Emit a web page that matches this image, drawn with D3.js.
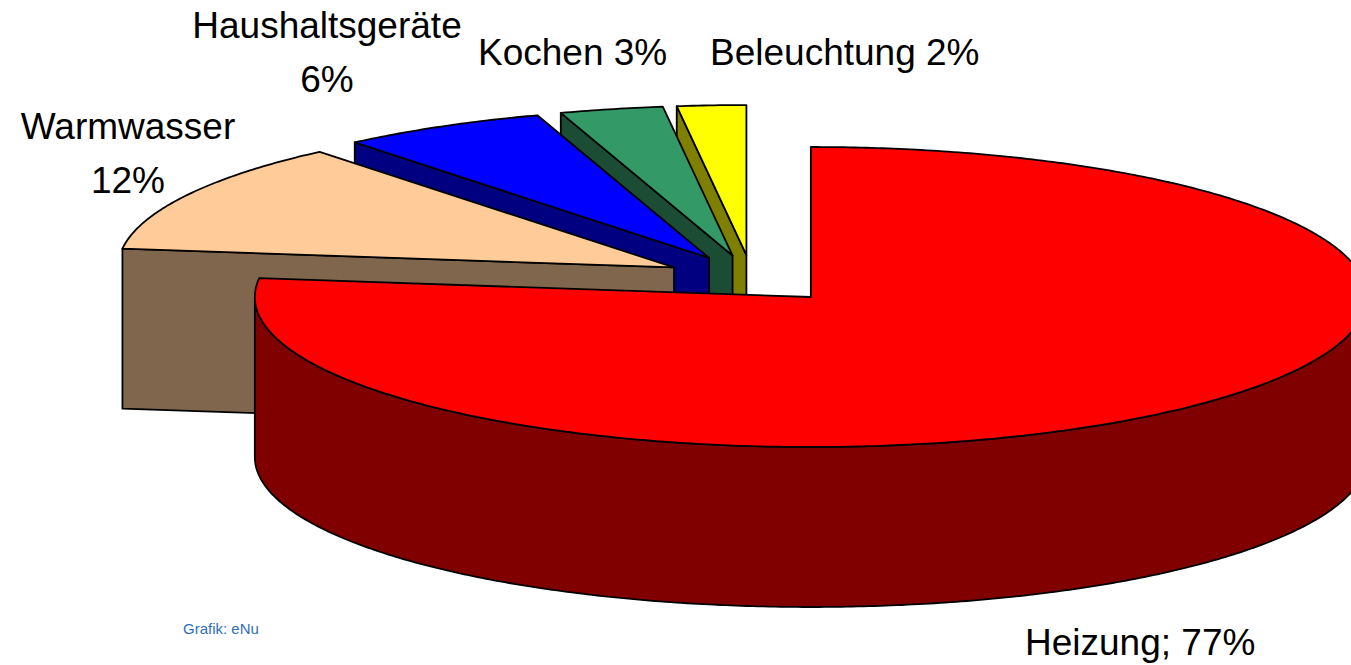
<!DOCTYPE html>
<html>
<head>
<meta charset="utf-8">
<script src="https://cdn.jsdelivr.net/npm/d3@7"></script>
<style>
  html, body { margin: 0; padding: 0; background: #fff; overflow: hidden; }
  text { font-family: "Liberation Sans", Arial, sans-serif; }
</style>
</head>
<body>
<div id="chart"></div>
<script>
// energy use in the household, shares in percent
var categories = ["Heizung", "Warmwasser", "Haushaltsgeräte", "Kochen", "Beleuchtung"];
var shares = [77, 12, 6, 3, 2];

var topColors = ["#ff0000", "#ffcc99", "#0000ff", "#339966", "#ffff00"];
var sideColors = ["#800000", "#80664d", "#000080", "#1a4d33", "#808000"];

var width = 1351, height = 665;
var cx = 752, cy = 279;      // pie centre (top face)
var rx = 556, ry = 150;      // ellipse radii
var depth = 160;             // thickness of the pie
var explode = 0.16;          // all slices pulled out a bit

var svg = d3.select("#chart")
    .append("svg")
    .attr("width", width)
    .attr("height", height);

var pie = d3.pie().sort(null).startAngle(0).endAngle(2 * Math.PI);
var arcs = pie(shares).map(function(d, i) {
  var mid = (d.startAngle + d.endAngle) / 2;
  d.i = i;
  d.dx = explode * rx * Math.sin(mid);
  d.dy = -explode * ry * Math.cos(mid);
  return d;
});

function pt(d, a, r, z) {
  return [cx + d.dx + r * rx * Math.sin(a), cy + d.dy - r * ry * Math.cos(a) + z];
}

function arcPoints(d, a0, a1, z) {
  var n = Math.max(2, Math.ceil(Math.abs(a1 - a0) / 0.01));
  return d3.range(n + 1).map(function(k) {
    return pt(d, a0 + (a1 - a0) * k / n, 1, z);
  });
}

var line = d3.line();

function topFace(d) {
  var p = [pt(d, d.startAngle, 0, 0)].concat(arcPoints(d, d.startAngle, d.endAngle, 0));
  return line(p) + "Z";
}

function startWall(d) {
  var a = d.startAngle;
  return line([pt(d, a, 0, 0), pt(d, a, 1, 0), pt(d, a, 1, depth), pt(d, a, 0, depth)]) + "Z";
}

function outerWall(d) {
  // only the front half of the rim is visible
  var a0 = Math.max(d.startAngle, Math.PI / 2);
  var a1 = Math.min(d.endAngle, 3 * Math.PI / 2);
  if (a1 <= a0) return null;
  var p = arcPoints(d, a0, a1, 0).concat(arcPoints(d, a1, a0, depth));
  return line(p) + "Z";
}

function wallVisible(d) {
  return Math.sin(d.startAngle) < 0;
}

// back slices first (from the back to the left), the big front slice last
var order = arcs.slice(1).reverse().concat([arcs[0]]);

var g = svg.append("g")
    .attr("stroke", "#000")
    .attr("stroke-width", 1.8)
    .attr("stroke-linejoin", "round");

order.forEach(function(d) {
  var slice = g.append("g").attr("class", "slice");
  var ow = outerWall(d);
  if (ow) {
    slice.append("path").attr("d", ow).attr("fill", sideColors[d.i]);
  }
  if (wallVisible(d)) {
    slice.append("path").attr("d", startWall(d)).attr("fill", sideColors[d.i]);
  }
  slice.append("path").attr("d", topFace(d)).attr("fill", topColors[d.i]);
});

// labels
var labelPos = [
  {x: 1025, y: 655, anchor: "start", split: false, sep: "; "},
  {x: 128, y: 139, anchor: "middle", split: true},
  {x: 327, y: 38, anchor: "middle", split: true},
  {x: 478, y: 65, anchor: "start", split: false, sep: " "},
  {x: 710, y: 65, anchor: "start", split: false, sep: " "}
];

var labels = svg.append("g")
    .attr("font-size", 37)
    .attr("fill", "#000");

categories.forEach(function(c, i) {
  var p = labelPos[i];
  var t = labels.append("text")
      .attr("x", p.x)
      .attr("y", p.y)
      .attr("text-anchor", p.anchor);
  if (p.split) {
    t.append("tspan").attr("x", p.x).text(c);
    t.append("tspan").attr("x", p.x).attr("dy", 54).text(shares[i] + "%");
  } else {
    t.text(c + p.sep + shares[i] + "%");
  }
});

svg.append("text")
    .attr("x", 183)
    .attr("y", 634)
    .attr("font-size", 15)
    .attr("fill", "#2f6fba")
    .text("Grafik: eNu");
</script>
</body>
</html>
